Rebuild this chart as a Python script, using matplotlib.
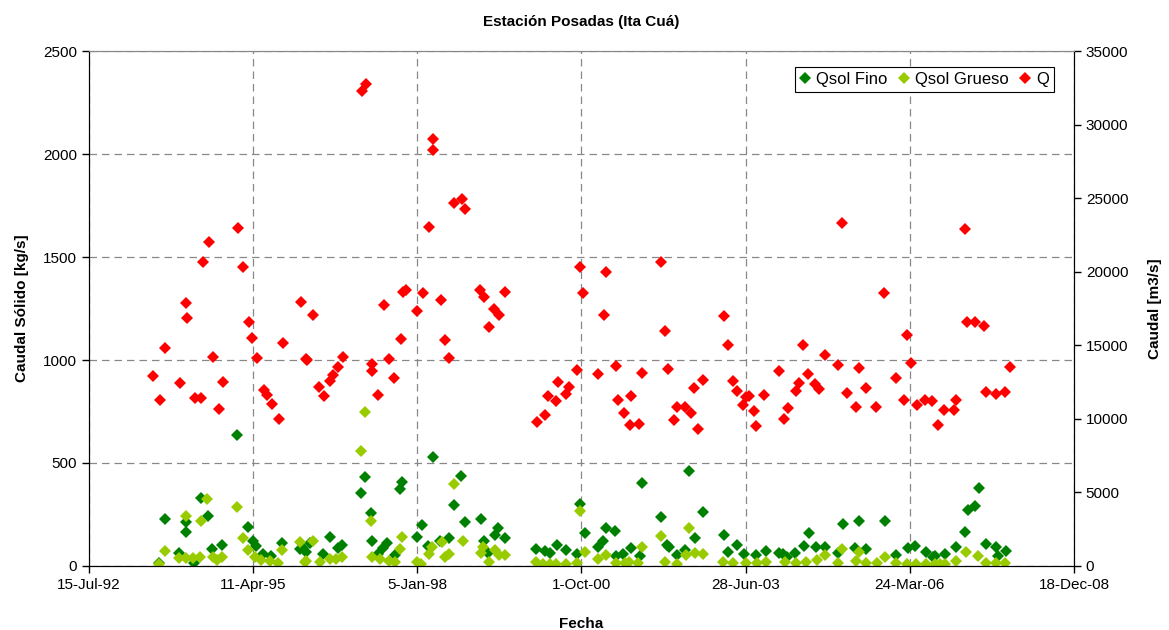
import datetime

import matplotlib
matplotlib.use("Agg")
import matplotlib.pyplot as plt
import numpy as np

plt.rcParams.update({'font.family': ['Liberation Sans', 'DejaVu Sans'], 'font.size': 11})

# sampling dates as decimal years
q_years = [
    1993.60, 1993.72, 1993.81, 1994.05, 1994.15, 1994.17, 1994.30, 1994.40, 1994.43, 1994.53,
    1994.60, 1994.70, 1994.77, 1995.02, 1995.11, 1995.20, 1995.26, 1995.34, 1995.45, 1995.51,
    1995.59, 1995.71, 1995.78, 1996.07, 1996.16, 1996.18, 1996.28, 1996.38, 1996.45, 1996.55,
    1996.60, 1996.69, 1996.78, 1997.08, 1997.15, 1997.25, 1997.26, 1997.35, 1997.45, 1997.54,
    1997.63, 1997.74, 1997.77, 1997.82, 1998.01, 1998.10, 1998.21, 1998.27, 1998.28, 1998.41,
    1998.48, 1998.54, 1998.63, 1998.75, 1998.81, 1999.06, 1999.13, 1999.21, 1999.29, 1999.37,
    1999.47, 2000.01, 2000.14, 2000.20, 2000.32, 2000.36, 2000.50, 2000.54, 2000.67, 2000.72,
    2000.77, 2001.03, 2001.12, 2001.16, 2001.32, 2001.35, 2001.45, 2001.56, 2001.58, 2001.71,
    2001.76, 2002.08, 2002.15, 2002.20, 2002.29, 2002.35, 2002.48, 2002.57, 2002.63, 2002.69,
    2002.77, 2003.13, 2003.19, 2003.27, 2003.35, 2003.45, 2003.49, 2003.54, 2003.63, 2003.66,
    2003.80, 2004.04, 2004.12, 2004.20, 2004.32, 2004.37, 2004.45, 2004.53, 2004.64, 2004.71,
    2004.81, 2005.03, 2005.10, 2005.17, 2005.32, 2005.37, 2005.50, 2005.66, 2005.79, 2005.99,
    2006.13, 2006.18, 2006.25, 2006.34, 2006.48, 2006.59, 2006.69, 2006.80, 2006.97, 2006.99,
    2007.14, 2007.18, 2007.31, 2007.47, 2007.49, 2007.66, 2007.81, 2007.90,
]
q_values = [
    12930, 11250, 14830, 12470, 17870, 16880, 11430, 11430, 20630, 22030,
    14210, 10700, 12490, 22950, 20290, 16560, 15500, 14150, 11960, 11620,
    11020, 10000, 15180, 17920, 14100, 14030, 17070, 12140, 11570, 12540,
    13000, 13500, 14190, 32270, 32780, 13730, 13230, 11620, 17710, 14100,
    12810, 15430, 18630, 18790, 17300, 18580, 23050, 29050, 28240, 18100,
    15390, 14120, 24660, 24910, 24270, 18790, 18290, 16220, 17460, 17090,
    18610, 9780, 10240, 11520, 11200, 12510, 11660, 12190, 13290, 20290,
    18560, 13040, 17090, 19990, 13570, 11250, 10400, 9550, 11570, 9640,
    13090, 20650, 15990, 13410, 9910, 10810, 10810, 10370, 12120, 9320,
    12630, 17000, 15000, 12600, 11890, 10970, 11500, 11570, 10530, 9520,
    11620, 13270, 9960, 10760, 11910, 12420, 15020, 13060, 12350, 12010,
    14350, 13640, 23300, 11780, 10790, 13460, 12100, 10790, 18580, 12810,
    11250, 15690, 13800, 10970, 11250, 11200, 9610, 10630, 10580, 11250,
    22930, 16610, 16580, 16310, 11850, 11680, 11850, 13500,
]

fino_years = [
    1993.70, 1993.80, 1994.04, 1994.15, 1994.16, 1994.29, 1994.40, 1994.52, 1994.59, 1994.76,
    1995.00, 1995.19, 1995.27, 1995.33, 1995.44, 1995.58, 1995.76, 1996.05, 1996.11, 1996.16,
    1996.22, 1996.44, 1996.56, 1996.69, 1996.76, 1997.07, 1997.14, 1997.24, 1997.25, 1997.36,
    1997.44, 1997.51, 1997.64, 1997.73, 1997.76, 1998.01, 1998.09, 1998.19, 1998.27, 1998.39,
    1998.54, 1998.62, 1998.74, 1998.80, 1999.07, 1999.12, 1999.19, 1999.30, 1999.36, 1999.47,
    2000.00, 2000.14, 2000.22, 2000.35, 2000.50, 2000.67, 2000.73, 2000.81, 2001.03, 2001.10,
    2001.15, 2001.30, 2001.33, 2001.44, 2001.58, 2001.72, 2001.75, 2002.08, 2002.17, 2002.21,
    2002.34, 2002.47, 2002.55, 2002.64, 2002.77, 2003.13, 2003.19, 2003.34, 2003.46, 2003.66,
    2003.82, 2004.04, 2004.11, 2004.17, 2004.31, 2004.46, 2004.54, 2004.66, 2004.81, 2005.03,
    2005.11, 2005.31, 2005.38, 2005.50, 2005.81, 2005.99, 2006.19, 2006.31, 2006.50, 2006.61,
    2006.64, 2006.81, 2007.00, 2007.14, 2007.19, 2007.32, 2007.38, 2007.49, 2007.67, 2007.69,
    2007.83,
]
fino_values = [
    16, 228, 65, 163, 215, 13, 328, 244, 81, 102,
    637, 188, 123, 97, 57, 49, 113, 81, 86, 70,
    110, 57, 139, 86, 102, 356, 434, 259, 123, 57,
    86, 110, 53, 372, 406, 142, 197, 97, 531, 123,
    134, 296, 438, 215, 228, 123, 61, 150, 186, 138,
    81, 73, 65, 102, 78, 57, 301, 159, 94, 123,
    183, 172, 49, 57, 89, 49, 401, 239, 102, 94,
    53, 78, 463, 138, 260, 150, 70, 102, 58, 53,
    73, 61, 57, 45, 61, 99, 159, 94, 94, 61,
    204, 86, 220, 81, 220, 53, 86, 97, 70, 45,
    49, 58, 94, 167, 272, 291, 377, 107, 91, 49,
    73,
]

grueso_years = [
    1993.70, 1993.80, 1994.04, 1994.15, 1994.16, 1994.27, 1994.39, 1994.41, 1994.51, 1994.60,
    1994.67, 1994.76, 1995.00, 1995.10, 1995.19, 1995.30, 1995.41, 1995.55, 1995.69, 1995.76,
    1996.05, 1996.14, 1996.16, 1996.27, 1996.39, 1996.55, 1996.65, 1996.76, 1997.07, 1997.13,
    1997.24, 1997.25, 1997.39, 1997.54, 1997.64, 1997.73, 1997.76, 1998.00, 1998.08, 1998.20,
    1998.25, 1998.42, 1998.47, 1998.54, 1998.62, 1998.77, 1999.07, 1999.11, 1999.21, 1999.30,
    1999.38, 1999.47, 2000.00, 2000.11, 2000.22, 2000.33, 2000.50, 2000.67, 2000.73, 2000.81,
    2001.03, 2001.15, 2001.33, 2001.47, 2001.54, 2001.69, 2001.75, 2002.08, 2002.14, 2002.34,
    2002.49, 2002.55, 2002.64, 2002.78, 2003.11, 2003.28, 2003.50, 2003.67, 2003.83, 2004.14,
    2004.33, 2004.50, 2004.67, 2004.81, 2005.03, 2005.10, 2005.33, 2005.38, 2005.50, 2005.67,
    2005.81, 2006.00, 2006.17, 2006.33, 2006.50, 2006.64, 2006.72, 2006.81, 2006.99, 2007.16,
    2007.36, 2007.49, 2007.67, 2007.82,
]
grueso_values = [
    10, 73, 40, 40, 244, 40, 45, 220, 324, 45,
    29, 42, 285, 134, 78, 45, 29, 26, 16, 78,
    118, 21, 24, 121, 21, 32, 32, 45, 557, 747,
    220, 42, 32, 26, 21, 81, 142, 21, 10, 57,
    91, 118, 45, 57, 398, 121, 65, 94, 21, 78,
    53, 53, 21, 10, 10, 10, 10, 13, 269, 66,
    32, 53, 16, 16, 21, 16, 91, 146, 21, 10,
    53, 183, 61, 57, 21, 16, 16, 16, 21, 21,
    13, 21, 29, 53, 13, 83, 26, 70, 16, 16,
    42, 13, 10, 10, 10, 10, 10, 10, 26, 70,
    49, 16, 13, 16,
]


def to_dates(years):
    out = []
    for y in years:
        base = datetime.datetime(int(y), 1, 1)
        out.append(base + datetime.timedelta(days=(y - int(y)) * 365.25))
    return out


start = datetime.datetime(1992, 7, 15)
tick_dates = [start + datetime.timedelta(days=1000 * i) for i in range(7)]

fig = plt.figure(figsize=(11.69, 6.30), dpi=100)
ax = fig.add_axes([0.0761, 0.1016, 0.8426, 0.8174])
ax2 = ax.twinx()

ms = 6.2
ax.plot(to_dates(fino_years), fino_values, 'D', color='#008000', ms=ms, mew=0, label='Qsol Fino')
ax.plot(to_dates(grueso_years), grueso_values, 'D', color='#99CC00', ms=ms, mew=0, label='Qsol Grueso')
ax2.plot(to_dates(q_years), q_values, 'D', color='#FF0000', ms=ms, mew=0, label='Q')

ax.set_xlim(tick_dates[0], tick_dates[-1])
ax.set_xticks(tick_dates)
ax.set_xticklabels([f"{d.day}-{d.strftime('%b-%y')}" for d in tick_dates])
ax.set_ylim(0, 2500)
ax.set_yticks(np.arange(0, 2501, 500))
ax2.set_ylim(0, 35000)
ax2.set_yticks(np.arange(0, 35001, 5000))

ax.grid(True, color='#888888', linestyle=(0, (6, 4)), linewidth=0.9)
ax.set_axisbelow(True)
for a in (ax, ax2):
    a.tick_params(direction='out', length=5, width=1, colors='black', labelsize=11)
    for s in ('left', 'right', 'bottom'):
        a.spines[s].set_color('black')
    a.spines['top'].set_color('#888888')

ax.set_xlabel('Fecha', fontweight='bold', fontsize=11, labelpad=18)
ax.set_ylabel('Caudal Sólido [kg/s]', fontweight='bold', fontsize=11, labelpad=10)
ax2.set_ylabel('Caudal [m3/s]', fontweight='bold', fontsize=11, labelpad=14)
ax.set_title('Estación Posadas (Ita Cuá)', fontweight='bold', fontsize=11, pad=18)

h1, l1 = ax.get_legend_handles_labels()
h2, l2 = ax2.get_legend_handles_labels()
leg = ax2.legend(h1 + h2, l1 + l2, loc='upper right', ncol=3, fancybox=False,
                 edgecolor='black', framealpha=1, fontsize=12, handlelength=0.6,
                 handletextpad=0.35, columnspacing=0.7, borderpad=0.3,
                 bbox_to_anchor=(0.988, 0.985))
leg.get_frame().set_linewidth(0.8)

plt.savefig('out.png', dpi=100)
